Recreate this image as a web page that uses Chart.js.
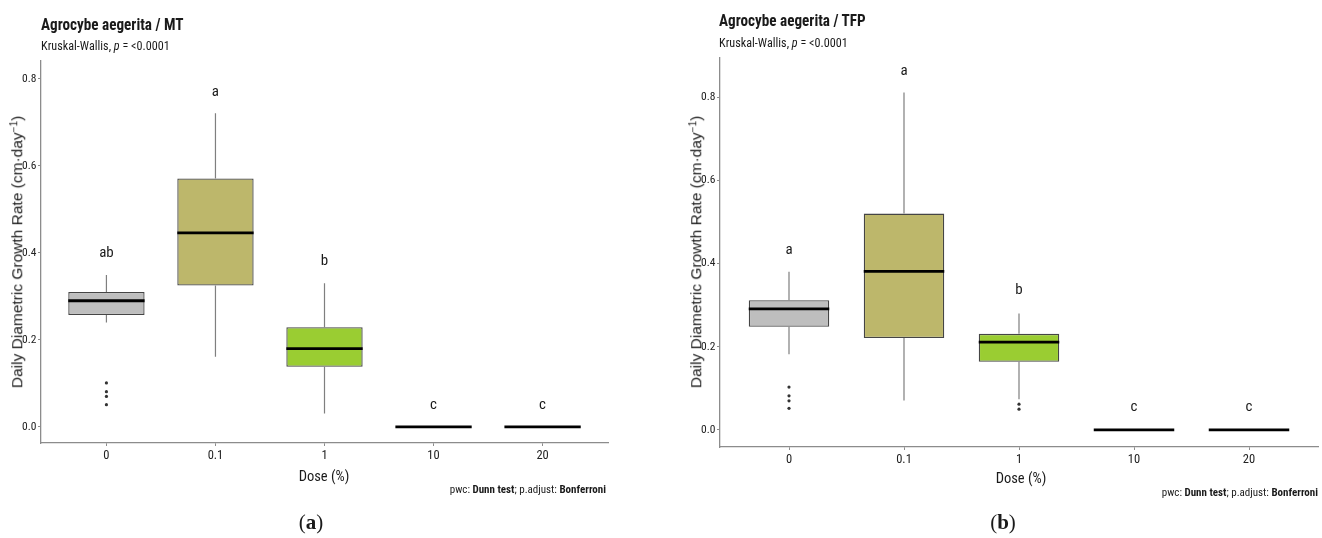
<!DOCTYPE html>
<html>
<head>
<meta charset="utf-8">
<script src="https://cdn.jsdelivr.net/npm/chart.js@4.4.1/dist/chart.umd.min.js"></script>
<style>
  html, body { margin: 0; padding: 0; background: #fff; }
  body { position: relative; width: 1322px; height: 538px; overflow: hidden;
         font-family: 'Roboto Condensed', 'Liberation Sans', sans-serif; color: #1a1a1a; }
  canvas { position: absolute; top: 0; }
  .t { position: absolute; white-space: nowrap; line-height: 1; }
  .title { font-size: 16.5px; font-weight: bold; transform: scaleX(0.92); transform-origin: left; }
  .sub { font-size: 13.5px; transform: scaleX(0.9); transform-origin: left; }
  .ytitle { font-family: 'Liberation Sans', Arial, sans-serif; font-size: 15.5px;
            transform: translate(-50%, -50%) rotate(-90deg); color: #222; }
  .ytitle sup { font-size: 10px; vertical-align: 5px; line-height: 0; }
  .xtitle { font-size: 14.5px; transform: translateX(-50%); }
  .cap { font-size: 11px; }
  .tag { font-family: 'Liberation Serif', 'DejaVu Serif', serif; font-size: 21px; transform: translateX(-50%); }
</style>
</head>
<body>
<canvas id="mt" width="640" height="538" style="left:0"></canvas>
<canvas id="tfp" width="662" height="538" style="left:660px"></canvas>

<div class="t title" style="left:41px; top:17px">Agrocybe aegerita / MT</div>
<div class="t sub" style="left:41px; top:39px">Kruskal-Wallis, <i>p</i> = &lt;0.0001</div>
<div class="t ytitle" style="left:17px; top:252px">Daily Diametric Growth Rate (cm·day<sup>−1</sup>)</div>
<div class="t xtitle" style="left:324px; top:470px">Dose (%)</div>
<div class="t cap" style="right:716px; top:484px">pwc: <b>Dunn test</b>; p.adjust: <b>Bonferroni</b></div>
<div class="t tag" style="left:311px; top:512px">(<b>a</b>)</div>

<div class="t title" style="left:719px; top:13px">Agrocybe aegerita / TFP</div>
<div class="t sub" style="left:719px; top:36px">Kruskal-Wallis, <i>p</i> = &lt;0.0001</div>
<div class="t ytitle" style="left:696px; top:252px">Daily Diametric Growth Rate (cm·day<sup>−1</sup>)</div>
<div class="t xtitle" style="left:1021px; top:472px">Dose (%)</div>
<div class="t cap" style="right:4px; top:487px">pwc: <b>Dunn test</b>; p.adjust: <b>Bonferroni</b></div>
<div class="t tag" style="left:1003px; top:512px">(<b>b</b>)</div>

<script>
// Boxplots of daily diametric growth rate per dose, two media (MT, TFP).
const DOSES = ["0", "0.1", "1", "10", "20"];
const Y_TICKS = [0, 0.2, 0.4, 0.6, 0.8];

// panel (a) MT
const MT_LOW    = [0.240, 0.161, 0.031, 0, 0];
const MT_Q1     = [0.257, 0.325, 0.138, 0, 0];
const MT_MEDIAN = [0.290, 0.446, 0.180, 0, 0];
const MT_Q3     = [0.310, 0.571, 0.229, 0, 0];
const MT_HIGH   = [0.349, 0.721, 0.330, 0, 0];
const MT_OUTLIERS = [[0.101, 0.081, 0.070, 0.051], [], [], [], []];
const MT_LETTERS  = ["ab", "a", "b", "c", "c"];
const MT_LETTER_Y = [0.400, 0.770, 0.381, 0.050, 0.050];

// panel (b) TFP
const TFP_LOW    = [0.182, 0.071, 0.074, 0, 0];
const TFP_Q1     = [0.248, 0.221, 0.164, 0, 0];
const TFP_MEDIAN = [0.291, 0.381, 0.211, 0, 0];
const TFP_Q3     = [0.312, 0.520, 0.231, 0, 0];
const TFP_HIGH   = [0.380, 0.811, 0.280, 0, 0];
const TFP_OUTLIERS = [[0.103, 0.082, 0.070, 0.052], [], [0.062, 0.050], [], []];
const TFP_LETTERS  = ["a", "a", "b", "c", "c"];
const TFP_LETTER_Y = [0.433, 0.863, 0.335, 0.055, 0.055];

const FILLS = ["#BEBEBE", "#BDB76B", "#9ACD32", "#BEBEBE", "#BEBEBE"];
const NARROW = "'Roboto Condensed', 'Liberation Sans', sans-serif";
const AXIS = "#8c8c8c";

// whiskers, medians and group letters, positioned through the chart scales
const boxExtras = {
  id: "boxExtras",
  afterDatasetsDraw(chart, args, o) {
    const { ctx, scales: { x, y } } = chart;
    const bars = chart.getDatasetMeta(0).data;
    ctx.save();
    o.median.forEach((m, i) => {
      const cx = x.getPixelForValue(i + 1);
      const half = bars[i].width / 2;
      if (o.high[i] > o.q3[i] || o.low[i] < o.q1[i]) {
        ctx.strokeStyle = "#7f7f7f"; ctx.lineWidth = 1.2;
        ctx.beginPath();
        ctx.moveTo(cx, y.getPixelForValue(o.q3[i])); ctx.lineTo(cx, y.getPixelForValue(o.high[i]));
        ctx.moveTo(cx, y.getPixelForValue(o.q1[i])); ctx.lineTo(cx, y.getPixelForValue(o.low[i]));
        ctx.stroke();
      }
      ctx.strokeStyle = "#000"; ctx.lineWidth = 2.8; ctx.lineCap = "butt";
      ctx.beginPath();
      ctx.moveTo(cx - half, y.getPixelForValue(m)); ctx.lineTo(cx + half, y.getPixelForValue(m));
      ctx.stroke();
      ctx.fillStyle = "#1a1a1a";
      ctx.font = `15px ${NARROW}`;
      ctx.textAlign = "center"; ctx.textBaseline = "middle";
      ctx.fillText(o.letters[i], cx, y.getPixelForValue(o.letterY[i]));
    });
    ctx.restore();
  },
};

function boxChart(id, d, layout) {
  const outPts = d.outliers.flatMap((vals, i) => vals.map(v => ({ x: i + 1, y: v })));
  return new Chart(document.getElementById(id), {
    type: "bar",
    data: {
      datasets: [
        { data: DOSES.map((_, i) => ({ x: i + 1, y: [d.q1[i], d.q3[i]] })),
          backgroundColor: FILLS, borderColor: "#454545", borderWidth: 1.3,
          borderSkipped: false, categoryPercentage: 1, barPercentage: 0.7 },
        { type: "scatter", data: outPts, pointRadius: 1.6, pointBackgroundColor: "#333",
          pointBorderWidth: 0 },
      ],
    },
    options: {
      responsive: false, animation: false, events: [],
      layout: { padding: { top: layout.top, right: layout.right, left: 0, bottom: 0 } },
      plugins: { legend: { display: false }, tooltip: { enabled: false },
                 boxExtras: d },
      scales: {
        x: { type: "linear", min: 0.4, max: 5.6, offset: false,
             afterBuildTicks: s => { s.ticks = DOSES.map((_, i) => ({ value: i + 1 })); },
             afterFit: s => { s.height = layout.xh; },
             grid: { drawOnChartArea: false, offset: false, tickLength: 3, color: AXIS },
             border: { color: AXIS, width: 1.3 },
             ticks: { callback: v => DOSES[v - 1], padding: 2, color: "#222",
                      font: { family: NARROW, size: 12.5 }, maxRotation: 0 } },
        y: { min: layout.ymin, max: layout.ymax,
             afterBuildTicks: s => { s.ticks = Y_TICKS.map(v => ({ value: v })); },
             afterFit: s => { s.width = layout.yw; },
             grid: { drawOnChartArea: false, tickLength: 3, color: AXIS },
             border: { color: AXIS, width: 1.3 },
             ticks: { callback: v => v.toFixed(1), padding: 1.5, color: "#222",
                      font: { family: NARROW, size: 11.5 } } },
      },
    },
    plugins: [boxExtras],
  });
}

boxChart("mt",
  { low: MT_LOW, q1: MT_Q1, median: MT_MEDIAN, q3: MT_Q3, high: MT_HIGH,
    outliers: MT_OUTLIERS, letters: MT_LETTERS, letterY: MT_LETTER_Y },
  { top: 61, right: 32, xh: 95, yw: 41, ymin: -0.037, ymax: 0.841 });

boxChart("tfp",
  { low: TFP_LOW, q1: TFP_Q1, median: TFP_MEDIAN, q3: TFP_Q3, high: TFP_HIGH,
    outliers: TFP_OUTLIERS, letters: TFP_LETTERS, letterY: TFP_LETTER_Y },
  { top: 58, right: 0, xh: 91, yw: 60, ymin: -0.041, ymax: 0.894 });
</script>
</body>
</html>
